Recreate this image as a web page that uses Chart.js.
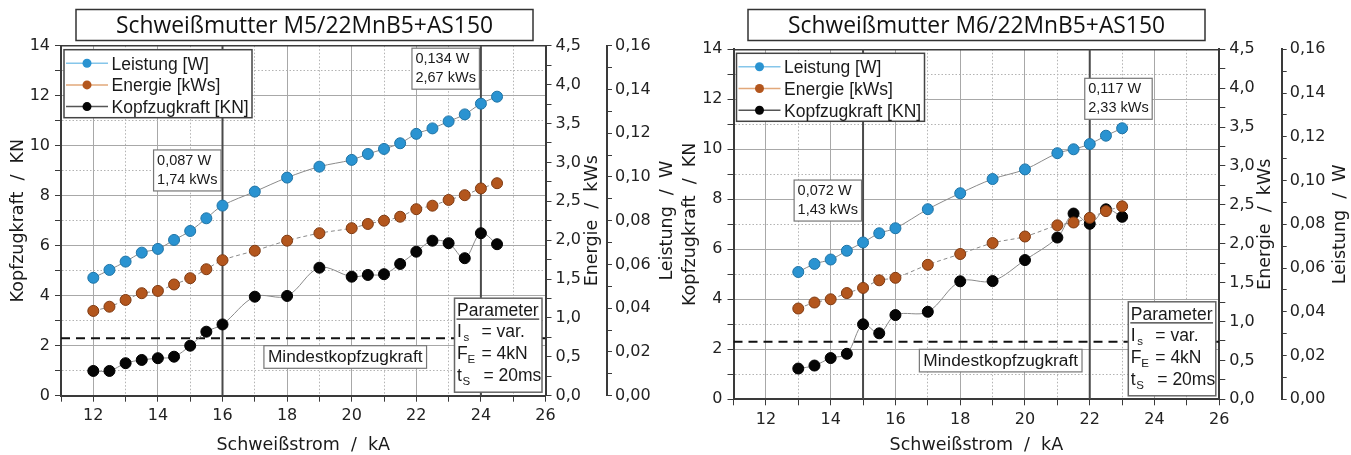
<!DOCTYPE html>
<html>
<head>
<meta charset="utf-8">
<script src="https://cdn.jsdelivr.net/npm/chart.js@4.4.1/dist/chart.umd.min.js"></script>
<style>
  body { margin: 0; background: #fff; }
  #left { position: absolute; left: 0; top: 0; }
  #right { position: absolute; left: 672px; top: 0; }
</style>
</head>
<body>
<canvas id="left" width="680" height="455"></canvas>
<canvas id="right" width="679" height="455"></canvas>
<script>
// Schweißmutter M5 - Schweißstrom in kA
const stromM5 = [12, 12.5, 13, 13.5, 14, 14.5, 15, 15.5, 16, 17, 18, 19, 20, 20.5, 21, 21.5, 22, 22.5, 23, 23.5, 24, 24.5];
const leistungM5 = [0.0539, 0.0575, 0.0613, 0.0654, 0.0671, 0.0712, 0.0753, 0.0811, 0.0869, 0.0933, 0.0997, 0.1047, 0.1078, 0.1105, 0.1128, 0.1154, 0.1197, 0.1222, 0.1254, 0.1286, 0.1335, 0.1367];
const energieM5 = [1.09, 1.144, 1.231, 1.318, 1.347, 1.43, 1.511, 1.626, 1.742, 1.864, 1.993, 2.089, 2.154, 2.208, 2.25, 2.301, 2.398, 2.443, 2.517, 2.578, 2.665, 2.732];
const kraftM5 = [0.99, 0.99, 1.3, 1.43, 1.5, 1.56, 2.0, 2.56, 2.85, 3.96, 3.99, 5.12, 4.76, 4.83, 4.86, 5.27, 5.76, 6.2, 6.1, 5.5, 6.5, 6.06];
const markStromM5 = [16, 24];
const markTextM5 = [['0,087 W', '1,74 kWs'], ['0,134 W', '2,67 kWs']];

// Schweißmutter M6
const stromM6 = [13, 13.5, 14, 14.5, 15, 15.5, 16, 17, 18, 19, 20, 21, 21.5, 22, 22.5, 23];
const leistungM6 = [0.0582, 0.0619, 0.0639, 0.0679, 0.0717, 0.0759, 0.0782, 0.0869, 0.0942, 0.1007, 0.1051, 0.1125, 0.1143, 0.1167, 0.1205, 0.1239];
const energieM6 = [1.167, 1.244, 1.286, 1.366, 1.432, 1.53, 1.562, 1.729, 1.868, 2.009, 2.093, 2.237, 2.273, 2.333, 2.42, 2.481];
const kraftM6 = [1.23, 1.35, 1.65, 1.82, 3.0, 2.64, 3.37, 3.5, 4.72, 4.73, 5.57, 6.47, 7.43, 7.02, 7.6, 7.3];
const markStromM6 = [15, 22];
const markTextM6 = [['0,072 W', '1,43 kWs'], ['0,117 W', '2,33 kWs']];

const mindestKraft = 2.3;
const seriesNames = ['Leistung [W]', 'Energie [kWs]', 'Kopfzugkraft [KN]'];
const paramText = [['I', 's', '= var.'], ['F', 'E', '= 4kN'], ['t', 'S', '= 20ms']];

const SANS = '"DejaVu Sans", sans-serif';
const ARIAL = '"Liberation Sans", Arial, sans-serif';
const axisCol = '#3a3a3a';
const gridMajor = '#a8a8a8';
const gridMinor = '#b3b3b3';
const pointFill = ['#2a93d1', '#b3561d', '#050505'];
const pointEdge = ['#1f74a6', '#7e3a12', '#000'];
const legendLine = ['#86c6ea', '#e2a87a', '#555'];

function box(ctx, x, y, w, h, stroke, lw) {
  ctx.save();
  ctx.fillStyle = '#fff';
  ctx.fillRect(x, y, w, h);
  ctx.strokeStyle = stroke;
  ctx.lineWidth = lw;
  ctx.strokeRect(x, y, w, h);
  ctx.restore();
}

function vText(ctx, text, x, y) {
  ctx.save();
  ctx.translate(x, y);
  ctx.rotate(-Math.PI / 2);
  ctx.textAlign = 'center';
  ctx.textBaseline = 'middle';
  ctx.fillText(text, 0, 0);
  ctx.restore();
}

function decoPlugin(o) {
  return {
    id: 'deco',
    afterDraw(chart) {
      const { ctx, chartArea: a, scales } = chart;
      const x = scales.x, y = scales.y;
      ctx.save();
      ctx.fillStyle = '#111';

      // title box
      box(ctx, 76, 9.5, 457, 31, '#333', 1.5);
      ctx.font = '100px "Open Sans", sans-serif';
      const fs = 100 * 377 / ctx.measureText(o.title).width;
      ctx.font = fs.toFixed(2) + 'px "Open Sans", sans-serif';
      ctx.textAlign = 'center';
      ctx.textBaseline = 'alphabetic';
      ctx.fillText(o.title, 304.5, 33.3);

      // axis titles
      ctx.font = '17.5px ' + SANS;
      ctx.fillStyle = '#1a1a1a';
      ctx.fillText('Schweißstrom  /  kA', (a.left + a.right) / 2, 450);
      const cy = (a.top + a.bottom) / 2;
      vText(ctx, 'Kopfzugkraft  /  KN', 18, cy);
      vText(ctx, 'Energie  /  kWs', o.eTitleX, cy);
      vText(ctx, 'Leistung  /  W', o.lTitleX, cy);

      // value boxes at marker lines
      ctx.font = '14.5px ' + ARIAL;
      ctx.textAlign = 'left';
      o.markStrom.forEach((s, i) => {
        const px = x.getPixelForValue(s);
        const m = o.marks[i];
        const t = o.markText[i];
        const w = Math.max(...t.map(v => ctx.measureText(v).width)) + 7;
        const bx = m.side === 'left' ? px - w - 1.5 : px - 5;
        const by = y.getPixelForValue(m.top);
        box(ctx, bx, by, w, 41, '#777', 1.2);
        ctx.fillStyle = '#1a1a1a';
        ctx.fillText(t[0], bx + 3.5, by + 15);
        ctx.fillText(t[1], bx + 3.5, by + 34);
      });

      // Mindestkopfzugkraft label
      ctx.font = '17.3px ' + ARIAL;
      const mt = 'Mindestkopfzugkraft';
      const mw = ctx.measureText(mt).width + 8;
      const mx = x.getPixelForValue(o.mindestX) - mw / 2;
      const my = y.getPixelForValue(mindestKraft) + 7.5;
      box(ctx, mx, my, mw, 22.6, '#777', 1.2);
      ctx.fillStyle = '#1a1a1a';
      ctx.fillText(mt, mx + 4, my + 16.2);

      // Parameter box
      const px0 = a.right - 91, py0 = a.bottom - 97.5;
      box(ctx, px0, py0, 87.5, 94, '#666', 1.5);
      ctx.fillStyle = '#1a1a1a';
      ctx.font = '17.5px ' + ARIAL;
      ctx.fillText('Parameter', px0 + 2.5, py0 + 18);
      const pw = ctx.measureText('Parameter').width;
      ctx.strokeStyle = '#333';
      ctx.lineWidth = 1.3;
      ctx.beginPath();
      ctx.moveTo(px0 + 2, py0 + 21);
      ctx.lineTo(px0 + 3 + pw, py0 + 21);
      ctx.stroke();
      const rowY = [39, 61, 83];
      const subX = [9, 13, 8];
      const eqX = [27, 27, 29];
      paramText.forEach((r, i) => {
        ctx.font = '17.5px ' + ARIAL;
        ctx.fillText(r[0], px0 + 2.5, py0 + rowY[i]);
        ctx.fillText(r[2], px0 + eqX[i], py0 + rowY[i]);
        ctx.font = '11.5px ' + ARIAL;
        ctx.fillText(r[1], px0 + subX[i], py0 + rowY[i] + 4);
      });

      // legend
      const lx = a.left + 3, ly = a.top + 4;
      box(ctx, lx, ly, 188, 68, '#444', 1.5);
      ctx.font = '17.5px ' + ARIAL;
      seriesNames.forEach((n, i) => {
        const ly2 = ly + 13.5 + i * 21.7;
        ctx.strokeStyle = legendLine[i];
        ctx.lineWidth = 1.5;
        ctx.beginPath();
        ctx.moveTo(lx + 2, ly2);
        ctx.lineTo(lx + 44, ly2);
        ctx.stroke();
        ctx.fillStyle = pointFill[i];
        ctx.beginPath();
        ctx.arc(lx + 23, ly2, 4.5, 0, Math.PI * 2);
        ctx.fill();
        ctx.fillStyle = '#1a1a1a';
        ctx.fillText(n, lx + 47.5, ly2 + 6.3);
      });
      ctx.restore();
    }
  };
}

function minorGrid(c) { return c.tick && Math.round(c.tick.value) % 2 !== 0; }

function makeChart(id, o) {
  const series = (label, ys, axis, i, dash, order) => ({
    label, yAxisID: axis, order,
    data: o.strom.map((v, k) => ({ x: v, y: ys[k] })),
    borderColor: '#8a8a8a', borderWidth: 1, borderDash: dash, tension: 0.35,
    pointRadius: 5.5, pointBackgroundColor: pointFill[i], pointBorderColor: pointEdge[i], pointBorderWidth: 1
  });
  const datasets = [
    series(seriesNames[0], o.leistung, 'yL', 0, [], 1),
    series(seriesNames[1], o.energie, 'yE', 1, [4, 3], 2),
    series(seriesNames[2], o.kraft, 'y', 2, [], 3)
  ];
  o.markStrom.forEach(s => datasets.push({
    data: [{ x: s, y: 0 }, { x: s, y: 14 }], yAxisID: 'y', order: 5,
    borderColor: '#4a4a4a', borderWidth: 2, pointRadius: 0, tension: 0
  }));
  datasets.push({
    data: [{ x: 11, y: mindestKraft }, { x: 26, y: mindestKraft }], yAxisID: 'y', order: 5,
    borderColor: '#111', borderWidth: 2, borderDash: [9, 6], pointRadius: 0, tension: 0
  });

  const tickFont = { family: SANS, size: 16 };
  const grid = {
    color: c => minorGrid(c) ? gridMinor : gridMajor,
    tickColor: axisCol, tickLength: 6, lineWidth: 1
  };
  const border = { color: axisCol, width: 2, dash: c => minorGrid(c) ? [1.5, 2] : [] };

  return new Chart(document.getElementById(id), {
    type: 'line',
    data: { datasets },
    options: {
      responsive: false,
      maintainAspectRatio: false,
      animation: false,
      devicePixelRatio: 1,
      layout: { padding: { top: o.padTop, left: 0, right: 0, bottom: 0 } },
      plugins: { legend: { display: false }, tooltip: { enabled: false } },
      scales: {
        x: {
          type: 'linear', position: 'bottom', min: 11, max: 26,
          ticks: { stepSize: 1, autoSkip: false, maxRotation: 0, font: tickFont, color: '#222', padding: 5,
                   callback: v => v % 2 === 0 ? String(v) : '' },
          grid, border,
          afterFit: s => { s.height = o.xH; }
        },
        xTop: {
          type: 'linear', position: 'top', min: 11, max: 26,
          ticks: { display: false },
          grid: { drawOnChartArea: false, drawTicks: false },
          border: { color: axisCol, width: 1.5 },
          afterFit: s => { s.height = 0; }
        },
        y: {
          position: 'left', min: 0, max: 14,
          ticks: { stepSize: 1, autoSkip: false, font: tickFont, color: '#222', padding: 5,
                   callback: v => v % 2 === 0 ? String(v) : '' },
          grid, border,
          afterFit: s => { s.width = o.yW; }
        },
        yE: {
          position: 'right', min: 0, max: 4.5, weight: 0,
          ticks: { stepSize: 0.25, autoSkip: false, font: tickFont, color: '#222', padding: 4,
                   callback: v => Math.round(v * 4) % 2 === 0 ? v.toFixed(1).replace('.', ',') : '' },
          grid: { drawOnChartArea: false, tickColor: axisCol, tickLength: 6 },
          border: { color: axisCol, width: 2 },
          afterFit: s => { s.width = o.eW; }
        },
        yL: {
          position: 'right', min: 0, max: 0.16, weight: 1,
          ticks: { stepSize: 0.01, autoSkip: false, font: tickFont, color: '#222', padding: 3,
                   callback: v => Math.round(v * 100) % 2 === 0 ? v.toFixed(2).replace('.', ',') : '' },
          grid: { drawOnChartArea: false, tickColor: axisCol, tickLength: 5 },
          border: { color: axisCol, width: 2 },
          afterFit: s => { s.width = o.lW; }
        }
      }
    },
    plugins: [decoPlugin(o)]
  });
}

makeChart('left', {
  title: 'Schweißmutter M5/22MnB5+AS150',
  strom: stromM5, leistung: leistungM5, energie: energieM5, kraft: kraftM5,
  markStrom: markStromM5, markText: markTextM5,
  marks: [{ side: 'left', top: 9.83 }, { side: 'left', top: 13.9 }],
  mindestX: 19.8,
  yW: 61, eW: 61.5, lW: 73, xH: 59.3, padTop: 45.7, eTitleX: 592, lTitleX: 667
});

makeChart('right', {
  title: 'Schweißmutter M6/22MnB5+AS150',
  strom: stromM6, leistung: leistungM6, energie: energieM6, kraft: kraftM6,
  markStrom: markStromM6, markText: markTextM6,
  marks: [{ side: 'left', top: 8.77 }, { side: 'right', top: 12.84 }],
  mindestX: 19.25,
  yW: 61.5, eW: 62.4, lW: 69.3, xH: 55.7, padTop: 49.3, eTitleX: 593, lTitleX: 668
});
</script>
</body>
</html>
